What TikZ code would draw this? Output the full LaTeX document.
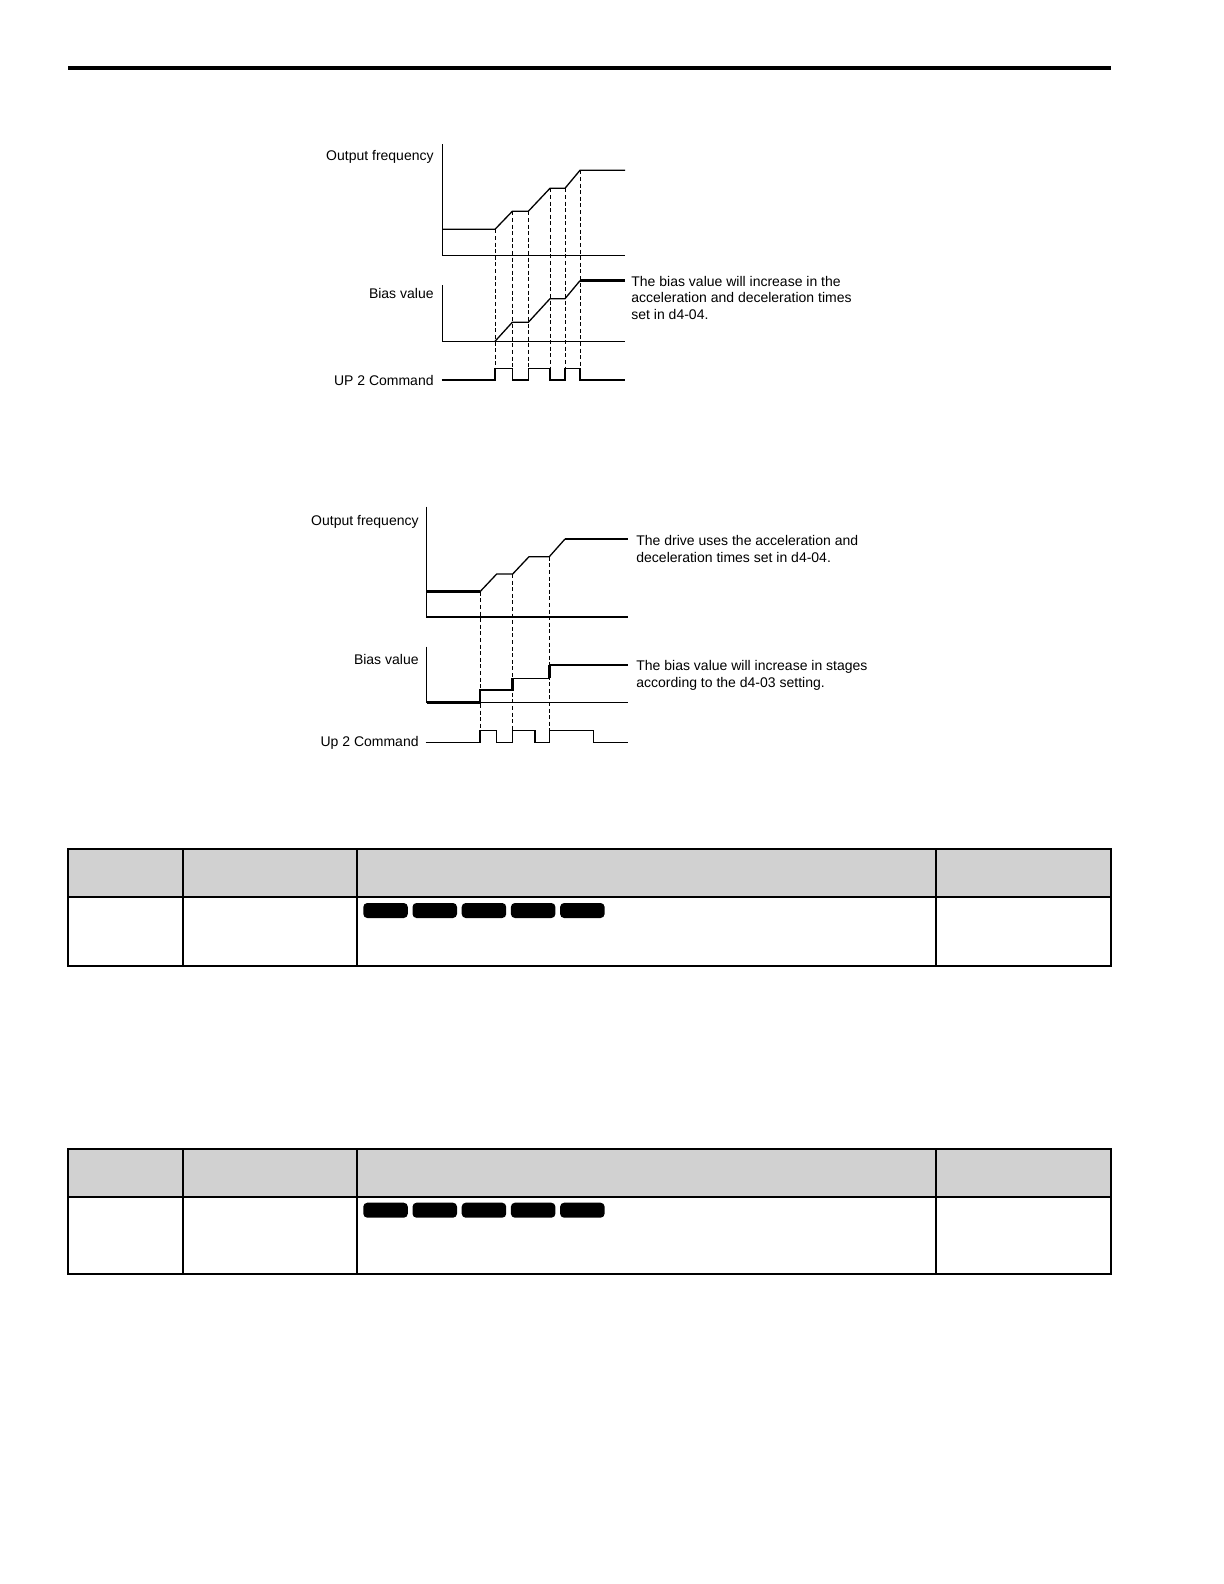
\documentclass[tikz,border=0pt]{standalone}
\usepackage{fontspec}
\setmainfont{Liberation Sans}
\definecolor{hdrgray}{HTML}{D1D1D1}
\begin{document}
\begin{tikzpicture}[x=0.5pt,y=-0.5pt,
  thinln/.style={line width=0.65pt},
  thickln/.style={line width=1.3pt},
  dashln/.style={line width=0.5pt,dash pattern=on 2pt off 1.3pt},
  lbl/.style={inner sep=0pt,anchor=base east,font=\fontsize{7}{8}\selectfont},
  note/.style={inner sep=0pt,anchor=base west,font=\fontsize{7}{8}\selectfont},
  tbl/.style={line width=1pt},
  keybox/.style={fill=black,rounded corners=2pt}]
\useasboundingbox (0,0) rectangle (1224,1584);
\fill[white] (0,0) rectangle (1224,1584);
% header rule
\coordinate (hrA) at (68.3,67.8);
\coordinate (hrB) at (1111,67.8);
\draw[line width=2pt] (hrA) -- (hrB);

% ===== top diagram =====
\node[lbl] (t1of) at (434,161) {Output frequency};
\node[lbl] (t1bv) at (434,298.3) {Bias value};
\node[lbl] (t1up) at (434,385) {UP 2 Command};
\draw[thinln] (442.3,144) -- (442.3,255.3) -- (625,255.3);
\draw[thinln] (442.3,229.3) -- (495,229.3) -- (512.3,211.3) -- (528.3,211.3) -- (550,188.3) -- (565,188.3) -- (580,170.3) -- (625,170.3);
\draw[thinln] (442.3,285) -- (442.3,341.3) -- (625,341.3);
\draw[thinln] (495,341.3) -- (512.3,322.3) -- (528.3,322.3) -- (550,298.7) -- (565,298.7) -- (580,280.7);
\draw[thickln] (580,280.7) -- (625,280.7);
\draw[thinln] (441.7,380) -- (495,380) -- (495,368.3) -- (512.3,368.3) -- (512.3,380) -- (528.3,380) -- (528.3,368.3) -- (550,368.3) -- (550,380) -- (565,380) -- (565,368.3) -- (580,368.3) -- (580,380) -- (625,380);
\foreach \xx/\yy in {495/229.3,512.3/211.3,528.3/211.3,550/188.3,565/188.3,580/170.3}
  \draw[dashln] (\xx,\yy) -- (\xx,368.3);
\node[note] (t1n1) at (631,286.5) {The bias value will increase in the};
\node[note] (t1n2) at (631,302.8) {acceleration and deceleration times};
\node[note] (t1n3) at (631,319) {set in d4-04.};

% ===== bottom diagram =====
\node[lbl] (t2of) at (419,525.7) {Output frequency};
\node[lbl] (t2bv) at (419,664) {Bias value};
\node[lbl] (t2up) at (419,746.7) {Up 2 Command};
\draw[thinln] (426.7,506.7) -- (426.7,617) -- (627.7,617);
\draw[thickln] (426.7,591.7) -- (480,591.7);
\draw[thinln] (480,591.7) -- (496.7,574) -- (512.7,574) -- (529,556.7) -- (549.3,556.7) -- (565,539);
\draw[thickln] (565,539) -- (627.7,539);
\draw[thinln] (426.7,646.7) -- (426.7,702.7) -- (627.7,702.7);
\draw[thickln] (426.7,702.7) -- (480,702.7) -- (480,690) -- (512.7,690) -- (512.7,678.3);
\draw[thinln] (512.7,678.3) -- (549.3,678.3);
\draw[thickln] (549.3,678.3) -- (549.3,665);
\draw[thinln] (549.3,665) -- (627.7,665);
\draw[thinln] (425.7,742.3) -- (480,742.3) -- (480,730.7) -- (496.7,730.7) -- (496.7,742.3) -- (512.7,742.3) -- (512.7,730.7) -- (535,730.7) -- (535,742.3) -- (549.3,742.3) -- (549.3,730.7) -- (593.3,730.7) -- (593.3,742.3) -- (627.7,742.3);
\foreach \xx/\yy in {480/591.7,512.7/574,549.3/556.7}
  \draw[dashln] (\xx,\yy) -- (\xx,730.7);
\node[note] (t2n1) at (636,545.7) {The drive uses the acceleration and};
\node[note] (t2n2) at (636,562.3) {deceleration times set in d4-04.};
\node[note] (t2n3) at (636,670.3) {The bias value will increase in stages};
\node[note] (t2n4) at (636,687.3) {according to the d4-03 setting.};

% ===== tables =====
\foreach \ta/\tb/\tc in {848.7/897.3/966, 1148.7/1197/1274}{
  \fill[hdrgray] (67.7,\ta) rectangle (1110.7,\tb);
  \draw[tbl] (67.7,\ta) rectangle (1110.7,\tc);
  \draw[tbl] (67.7,\tb) -- (1110.7,\tb);
  \foreach \cx in {182.8,357.3,936.3}
    \draw[tbl] (\cx,\ta) -- (\cx,\tc);
  \foreach \k in {0,...,4}
    \fill[keybox] (363.3+\k*49.2,\tb+5.7) rectangle (407.8+\k*49.2,\tb+20.7);
}
\end{tikzpicture}
\end{document}
